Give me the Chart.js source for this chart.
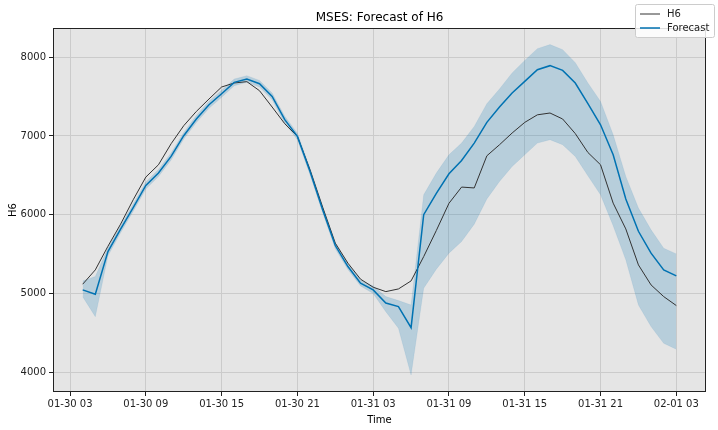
<!DOCTYPE html>
<html>
<head>
<meta charset="utf-8">
<title>MSES: Forecast of H6</title>
<script src="https://cdn.jsdelivr.net/npm/chart.js@4.4.1/dist/chart.umd.min.js"></script>
<style>
  html, body { margin: 0; padding: 0; background: #fff; }
  #wrap { width: 718px; height: 430px; }
</style>
</head>
<body>
<div id="wrap"><canvas id="forecastChart" width="718" height="430"></canvas></div>
<script>
// hours since 01-30 00:00
var hours = [4, 5, 6, 7, 8, 9, 10, 11, 12, 13, 14, 15, 16, 17, 18, 19, 20, 21, 22, 23,
             24, 25, 26, 27, 28, 29, 30, 31, 32, 33, 34, 35, 36, 37, 38, 39, 40, 41, 42, 43,
             44, 45, 46, 47, 48, 49, 50, 51];

var h6 = [5118, 5300, 5600, 5880, 6190, 6478, 6634, 6901, 7130, 7311, 7469, 7621, 7672, 7689, 7574, 7367,
          7155, 6994, 6570, 6096, 5639, 5385, 5182, 5080, 5024, 5058, 5160, 5469, 5800, 6145, 6351, 6340,
          6748, 6888, 7037, 7172, 7268, 7291, 7215, 7030, 6790, 6634, 6147, 5820, 5363, 5109, 4961, 4847];

var forecast = [5046, 4991, 5532, 5817, 6090, 6371, 6529, 6740, 7003, 7215, 7396, 7536, 7680, 7723, 7663, 7502,
                7206, 6994, 6549, 6062, 5609, 5342, 5131, 5046, 4880, 4834, 4567, 6000, 6270, 6520, 6689, 6909,
                7172, 7367, 7545, 7693, 7841, 7892, 7832, 7672, 7409, 7142, 6761, 6200, 5790, 5512, 5300, 5224];

var upper = [5160, 5215, 5580, 5860, 6135, 6415, 6575, 6785, 7045, 7260, 7440, 7580, 7722, 7765, 7705, 7545,
             7250, 7035, 6590, 6100, 5650, 5380, 5170, 5096, 4961, 4910, 4855, 6253, 6529, 6761, 6909, 7121,
             7409, 7596, 7799, 7959, 8108, 8159, 8095, 7930, 7672, 7438, 7015, 6486, 6084, 5808, 5575, 5503];

var lower = [4960, 4706, 5478, 5770, 6045, 6325, 6485, 6695, 6960, 7170, 7350, 7490, 7638, 7680, 7620, 7460,
             7162, 6953, 6508, 6024, 5568, 5304, 5096, 5000, 4770, 4559, 3966, 5067, 5309, 5512, 5660, 5880,
             6200, 6422, 6612, 6761, 6909, 6952, 6888, 6740, 6494, 6253, 5860, 5427, 4855, 4580, 4368, 4292];

var tickHours = [3, 9, 15, 21, 27, 33, 39, 45, 51];
var tickLabels = ['01-30 03', '01-30 09', '01-30 15', '01-30 21', '01-31 03', '01-31 09', '01-31 15', '01-31 21', '02-01 03'];
var yTicks = [4000, 5000, 6000, 7000, 8000];

var FONT = '"DejaVu Sans", sans-serif';
var BLUE = '#0072b2';

function pts(vals) {
    return vals.map(function(v, i) { return { x: hours[i], y: v }; });
}

// background, frame, title and legend like the matplotlib figure
var decor = {
    id: 'decor',
    beforeDraw: function(chart) {
        var a = chart.chartArea, ctx = chart.ctx;
        ctx.save();
        ctx.fillStyle = '#e5e5e5';
        ctx.fillRect(a.left, a.top, a.right - a.left, a.bottom - a.top);
        ctx.restore();
    },
    afterDraw: function(chart) {
        var a = chart.chartArea, ctx = chart.ctx;
        ctx.save();
        ctx.strokeStyle = '#222';
        ctx.lineWidth = 1;
        ctx.strokeRect(a.left + 0.5, a.top + 0.5, a.right - a.left - 1, a.bottom - a.top - 1);

        ctx.fillStyle = '#000';
        ctx.font = '12px ' + FONT;
        ctx.textAlign = 'center';
        ctx.textBaseline = 'middle';
        ctx.fillText('MSES: Forecast of H6', (a.left + a.right) / 2, 18);

        // legend box
        ctx.fillStyle = 'rgba(255,255,255,0.85)';
        ctx.strokeStyle = '#cccccc';
        ctx.beginPath();
        if (ctx.roundRect) ctx.roundRect(635.5, 4.5, 79, 33, 2); else ctx.rect(635.5, 4.5, 79, 33);
        ctx.fill();
        ctx.stroke();

        ctx.strokeStyle = '#333';
        ctx.lineWidth = 1;
        ctx.beginPath(); ctx.moveTo(640, 14); ctx.lineTo(660, 14); ctx.stroke();
        ctx.strokeStyle = BLUE;
        ctx.lineWidth = 1.5;
        ctx.beginPath(); ctx.moveTo(640, 28); ctx.lineTo(660, 28); ctx.stroke();

        ctx.fillStyle = '#222';
        ctx.font = '10px ' + FONT;
        ctx.textAlign = 'left';
        ctx.fillText('H6', 667, 14);
        ctx.fillText('Forecast', 667, 28);
        ctx.restore();
    }
};

var ctx = document.getElementById('forecastChart').getContext('2d');
var chart = new Chart(ctx, {
    type: 'line',
    data: {
        datasets: [{
            label: 'Forecast',
            data: pts(forecast),
            borderColor: BLUE,
            borderWidth: 1.5,
            pointRadius: 0,
            fill: false,
            tension: 0
        }, {
            label: 'H6',
            data: pts(h6),
            borderColor: '#333333',
            borderWidth: 1,
            pointRadius: 0,
            fill: false,
            tension: 0
        }, {
            label: 'upper',
            data: pts(upper),
            borderColor: 'rgba(0,114,178,0.15)',
            borderWidth: 0.5,
            pointRadius: 0,
            backgroundColor: 'rgba(0,114,178,0.2)',
            fill: '+1',
            tension: 0
        }, {
            label: 'lower',
            data: pts(lower),
            borderColor: 'rgba(0,114,178,0.15)',
            borderWidth: 0.5,
            pointRadius: 0,
            fill: false,
            tension: 0
        }]
    },
    options: {
        responsive: false,
        animation: false,
        devicePixelRatio: 1,
        layout: { padding: { left: 0, top: 28, right: 12, bottom: 0 } },
        plugins: {
            legend: { display: false },
            title: { display: false },
            tooltip: { enabled: false }
        },
        scales: {
            x: {
                type: 'linear',
                min: 1.65,
                max: 53.35,
                afterFit: function(scale) { scale.height = 38; },
                afterBuildTicks: function(axis) {
                    axis.ticks = tickHours.map(function(v) { return { value: v }; });
                },
                grid: { color: '#cbcbcb', lineWidth: 1, tickColor: '#222', tickLength: 4, drawOnChartArea: true },
                border: { display: false },
                ticks: {
                    color: '#222',
                    font: { family: FONT, size: 10 },
                    padding: 2,
                    maxRotation: 0,
                    autoSkip: false,
                    callback: function(value) {
                        var k = tickHours.indexOf(value);
                        return k >= 0 ? tickLabels[k] : '';
                    }
                },
                title: {
                    display: true,
                    text: 'Time',
                    color: '#000',
                    font: { family: FONT, size: 10 },
                    padding: { top: 0, bottom: 4 }
                }
            },
            y: {
                type: 'linear',
                min: 3750,
                max: 8370,
                afterFit: function(scale) { scale.width = 53; },
                afterBuildTicks: function(axis) {
                    axis.ticks = yTicks.map(function(v) { return { value: v }; });
                },
                grid: { color: '#cbcbcb', lineWidth: 1, tickColor: '#222', tickLength: 4 },
                border: { display: false },
                ticks: {
                    color: '#222',
                    font: { family: FONT, size: 10 },
                    padding: 3,
                    callback: function(value) { return String(value); }
                },
                title: {
                    display: true,
                    text: 'H6',
                    color: '#000',
                    font: { family: FONT, size: 10 },
                    padding: { top: 7, bottom: 0 }
                }
            }
        }
    },
    plugins: [decor]
});
</script>
</body>
</html>
